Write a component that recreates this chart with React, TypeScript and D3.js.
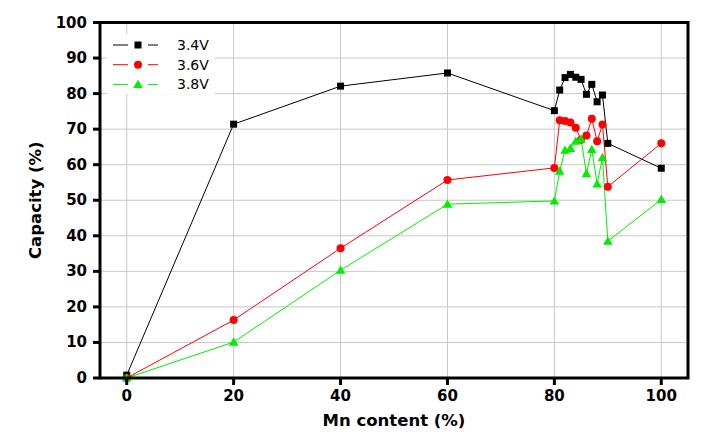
import React from "react";
import * as d3 from "d3";

const mnContent = [0, 20, 40, 60, 80, 81, 82, 83, 84, 85, 86, 87, 88, 89, 90, 100];
const cap34 = [0.8, 71.4, 82.1, 85.8, 75.2, 81.0, 84.5, 85.4, 84.6, 84.0, 79.8, 82.6, 77.7, 79.6, 66.0, 59.0];
const cap36 = [0, 16.3, 36.5, 55.7, 59.1, 72.5, 72.3, 71.9, 70.4, 67.0, 68.2, 72.9, 66.6, 71.3, 53.8, 66.0];
const cap38 = [0, 10.1, 30.3, 48.9, 49.8, 58.2, 64.1, 64.6, 66.6, 67.2, 57.5, 64.3, 54.6, 62.0, 38.5, 50.2];
const seriesNames = ["3.4V", "3.6V", "3.8V"];
const seriesColors = ["#000000", "#ff0000", "#00ee00"];
const xTicks = [0, 20, 40, 60, 80, 100];
const yTicks = [0, 10, 20, 30, 40, 50, 60, 70, 80, 90, 100];

const W = 713, H = 439;
const L = 100, R = 688, T = 22.5, B = 378;

export default function App() {
  const x = d3.scaleLinear().domain([-5, 105]).range([L, R]);
  const y = d3.scaleLinear().domain([0, 100]).range([B, T]);
  const line = d3.line<[number, number]>().x(d => x(d[0])).y(d => y(d[1]));
  const all = [cap34, cap36, cap38];
  const font = "'DejaVu Sans', Verdana, sans-serif";

  const marker = (kind: number, cx: number, cy: number, color: string, key: string) => {
    if (kind === 0) return <rect key={key} x={cx - 3.5} y={cy - 3.5} width={7} height={7} fill={color} />;
    if (kind === 1) return <circle key={key} cx={cx} cy={cy} r={4} fill={color} />;
    const sym = d3.symbol().type(d3.symbolTriangle).size(40)();
    return <path key={key} d={sym || ""} transform={`translate(${cx},${cy + 0.8})`} fill={color} />;
  };

  return (
    <svg width={W} height={H} style={{ position: "absolute", left: 0, top: 0, background: "#fff" }}>
      <rect x={0} y={0} width={W} height={H} fill="#fff" />
      {yTicks.filter(t => t > 0 && t < 100).map(t => (
        <line key={"gy" + t} x1={L} x2={R} y1={y(t)} y2={y(t)} stroke="#c8c8c8" strokeWidth={1} />
      ))}
      {xTicks.map(t => (
        <line key={"gx" + t} x1={x(t)} x2={x(t)} y1={T} y2={B} stroke="#c8c8c8" strokeWidth={1} />
      ))}
      <rect x={107} y={34} width={108} height={60} fill="#fff" />
      {all.map((s, i) => (
        <path key={"l" + i} d={line(mnContent.map((m, j) => [m, s[j]] as [number, number])) || ""}
          fill="none" stroke={seriesColors[i]} strokeWidth={1} />
      ))}
      {all.map((s, i) => s.map((v, j) => marker(i, x(mnContent[j]), y(v), seriesColors[i], `m${i}-${j}`)))}
      {seriesNames.map((n, i) => {
        const ly = 45 + i * 19.7;
        return (
          <g key={"lg" + i}>
            <line x1={113} x2={158} y1={ly} y2={ly} stroke={seriesColors[i]} strokeWidth={1} />
            <rect x={128} y={ly - 5} width={20} height={10} fill="#fff" />
            {marker(i, 138, ly, seriesColors[i], "lm" + i)}
            <text x={177} y={ly + 5} fontFamily={font} fontSize={14} fill="#000">{n}</text>
          </g>
        );
      })}
      <rect x={L} y={T} width={R - L} height={B - T} fill="none" stroke="#000" strokeWidth={3} />
      {yTicks.map(t => (
        <g key={"yt" + t}>
          <line x1={L - 7} x2={L} y1={y(t)} y2={y(t)} stroke="#000" strokeWidth={3} />
          <text x={87} y={y(t) + 5} textAnchor="end" fontFamily={font} fontWeight="bold" fontSize={15}>{t}</text>
        </g>
      ))}
      {xTicks.map(t => (
        <g key={"xt" + t}>
          <line x1={x(t)} x2={x(t)} y1={B} y2={B + 7} stroke="#000" strokeWidth={3} />
          <text x={x(t)} y={401} textAnchor="middle" fontFamily={font} fontWeight="bold" fontSize={15}>{t}</text>
        </g>
      ))}
      <text x={(L + R) / 2} y={426} textAnchor="middle" fontFamily={font} fontWeight="bold" fontSize={16.5}>Mn content (%)</text>
      <text transform={`translate(41,${(T + B) / 2}) rotate(-90)`} textAnchor="middle" fontFamily={font} fontWeight="bold" fontSize={16.5}>Capacity (%)</text>
    </svg>
  );
}
